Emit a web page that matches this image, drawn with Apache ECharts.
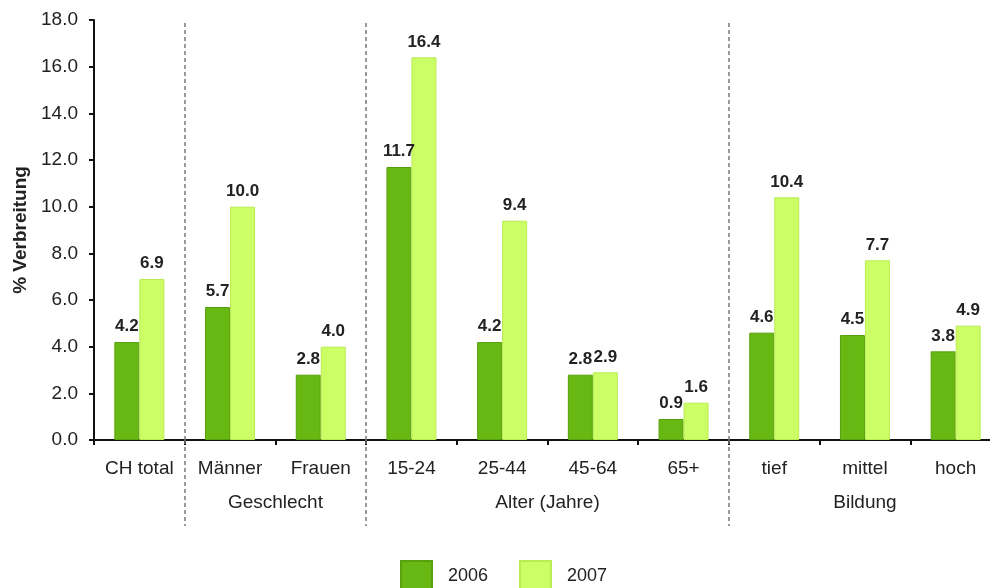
<!DOCTYPE html>
<html>
<head>
<meta charset="utf-8">
<script src="https://cdn.jsdelivr.net/npm/echarts@6/dist/echarts.min.js"></script>
<style>
  html, body { margin: 0; padding: 0; background: #fff; overflow: hidden; }
  #chart { width: 990px; height: 588px; }
</style>
</head>
<body>
<div id="chart"></div>
<script>
// Categories along the x axis
const categories = ['CH total', 'Männer', 'Frauen', '15-24', '25-44', '45-64', '65+', 'tief', 'mittel', 'hoch'];
// Prevalence in percent per year
const values2006 = [4.2, 5.7, 2.8, 11.7, 4.2, 2.8, 0.9, 4.6, 4.5, 3.8];
const values2007 = [6.9, 10.0, 4.0, 16.4, 9.4, 2.9, 1.6, 10.4, 7.7, 4.9];
const seriesNames = ['2006', '2007'];
// Group headings, placed at positions on a 0..10 helper scale
const groupNames = ['Geschlecht', 'Alter (Jahre)', 'Bildung'];
const groupCenters = [2, 5, 8.5];
// Boundaries between groups on the same helper scale
const groupBounds = [1, 3, 7];

const font = 'Liberation Sans, Arial, sans-serif';
const textColor = '#222';

const chart = echarts.init(document.getElementById('chart'), null, { renderer: 'canvas' });

const labelStyle = {
  show: true,
  position: 'top',
  distance: 7,
  fontFamily: font,
  fontWeight: 'bold',
  fontSize: 17,
  color: textColor,
  formatter: p => p.value.toFixed(1)
};

const dashStyle = { color: '#7a7a7a', width: 1.5, type: [4, 3] };

chart.setOption({
  animation: false,
  textStyle: { fontFamily: font },
  // the plot runs slightly past the right edge of the canvas
  grid: { left: 94, top: 20, bottom: 148, width: 907, containLabel: false, outerBoundsMode: 'none' },
  legend: {
    bottom: -4,
    left: 400,
    padding: 0,
    itemWidth: 31,
    itemHeight: 30,
    itemGap: 31,
    icon: 'rect',
    textStyle: { fontFamily: font, fontSize: 18, color: textColor, padding: [0, 0, 0, 11] },
    data: seriesNames
  },
  xAxis: [
    {
      type: 'category',
      data: categories,
      axisLine: { lineStyle: { color: '#111', width: 2 } },
      axisTick: { show: true, length: 5, lineStyle: { color: '#111', width: 2 } },
      axisLabel: { fontFamily: font, fontSize: 19, color: textColor, margin: 19 }
    },
    {
      // helper scale: group boundaries inside the plot and group headings
      type: 'value',
      min: 0,
      max: 10,
      position: 'bottom',
      axisLine: { show: false },
      splitLine: { show: false },
      axisTick: {
        show: true,
        inside: true,
        length: 420,
        customValues: groupBounds,
        lineStyle: dashStyle
      },
      axisLabel: {
        show: true,
        customValues: groupCenters,
        margin: 53,
        fontFamily: font,
        fontSize: 19,
        color: textColor,
        formatter: v => groupNames[groupCenters.indexOf(v)] || ''
      }
    },
    {
      // continuation of the group boundaries below the axis
      type: 'value',
      min: 0,
      max: 10,
      position: 'bottom',
      axisLine: { show: false },
      splitLine: { show: false },
      axisTick: {
        show: true,
        length: 86,
        customValues: groupBounds,
        lineStyle: dashStyle
      },
      axisLabel: { show: false }
    }
  ],
  yAxis: {
    type: 'value',
    min: 0,
    max: 18,
    interval: 2,
    name: '% Verbreitung',
    nameLocation: 'middle',
    nameGap: 62,
    nameTextStyle: { fontFamily: font, fontSize: 19, fontWeight: 'bold', color: textColor },
    axisLine: { show: true, lineStyle: { color: '#111', width: 2 } },
    axisTick: { show: true, length: 5, lineStyle: { color: '#111', width: 2 } },
    splitLine: { show: false },
    axisLabel: { fontFamily: font, fontSize: 19, color: textColor, margin: 16, formatter: v => v.toFixed(1) }
  },
  series: [
    {
      name: seriesNames[0],
      type: 'bar',
      data: values2006,
      barWidth: 25,
      barGap: '0%',
      itemStyle: { color: '#67b812', borderColor: '#58a00e', borderWidth: 1 },
      label: labelStyle,
      z: 3
    },
    {
      name: seriesNames[1],
      type: 'bar',
      data: values2007,
      barWidth: 25,
      barGap: '0%',
      itemStyle: { color: '#ccff66', borderColor: '#b8ec50', borderWidth: 1 },
      label: labelStyle,
      z: 3
    }
  ]
});
</script>
</body>
</html>
